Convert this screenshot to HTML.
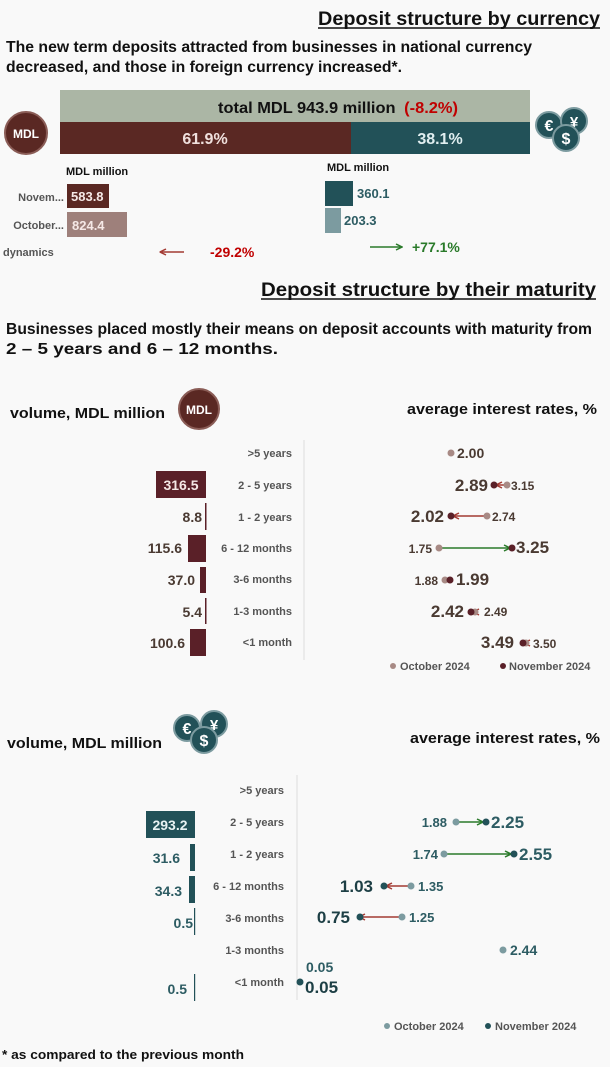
<!DOCTYPE html>
<html><head><meta charset="utf-8"><style>
html,body{margin:0;padding:0;background:#f9f9f9;}
svg{display:block;font-family:"Liberation Sans Narrow","Liberation Sans",sans-serif;font-weight:bold;}
</style></head><body>
<svg width="610" height="1067" viewBox="0 0 610 1067" xmlns="http://www.w3.org/2000/svg">
<defs>
<marker id="ar" viewBox="0 0 10 10" refX="9" refY="5" markerWidth="5" markerHeight="5" orient="auto-start-reverse"><path d="M1,1 L9,5 L1,9" fill="none" stroke="#a33a33" stroke-width="2"/></marker>
<marker id="ag" viewBox="0 0 10 10" refX="9" refY="5" markerWidth="5" markerHeight="5" orient="auto-start-reverse"><path d="M1,1 L9,5 L1,9" fill="none" stroke="#2a7a2a" stroke-width="2"/></marker>
</defs>
<rect width="610" height="1067" fill="#f9f9f9"/>
<text x="318" y="25" font-size="19" fill="#111" textLength="282" lengthAdjust="spacingAndGlyphs">Deposit structure by currency</text>
<line x1="318" y1="28" x2="600" y2="28" stroke="#111" stroke-width="1.5"/>
<text x="6" y="52" font-size="16" fill="#111" textLength="526" lengthAdjust="spacingAndGlyphs">The new term deposits attracted from businesses in national currency</text>
<text x="6" y="72" font-size="16" fill="#111" textLength="396" lengthAdjust="spacingAndGlyphs">decreased, and those in foreign currency increased*.</text>
<rect x="60" y="90" width="470" height="32" fill="#abb6a5"/>
<text x="218" y="113" font-size="16" fill="#111" textLength="240" lengthAdjust="spacingAndGlyphs">total MDL 943.9 million <tspan fill="#c00000" dx="4">(-8.2%)</tspan></text>
<rect x="60" y="122" width="291" height="32" fill="#5a2823"/>
<rect x="351" y="122" width="179" height="32" fill="#225158"/>
<text x="205" y="144" text-anchor="middle" font-size="16" fill="#f0e0dd">61.9%</text>
<text x="440" y="144" text-anchor="middle" font-size="16" fill="#e0eef0">38.1%</text>
<circle cx="26" cy="133" r="21" fill="#5a2823" stroke="#8a5c56" stroke-width="2"/>
<text x="26" y="138" text-anchor="middle" font-size="12" fill="#fff">MDL</text>
<g>
<circle cx="549" cy="125" r="13" fill="#225158" stroke="#7c9ba0" stroke-width="2"/><text x="549" y="131" text-anchor="middle" font-size="16" fill="#fff">€</text>
<circle cx="574" cy="121" r="13" fill="#225158" stroke="#7c9ba0" stroke-width="2"/><text x="574" y="127" text-anchor="middle" font-size="15" fill="#fff">¥</text>
<circle cx="566" cy="138" r="13" fill="#225158" stroke="#7c9ba0" stroke-width="2"/><text x="566" y="144" text-anchor="middle" font-size="16" fill="#fff">$</text>
</g>
<text x="66" y="175" font-size="11" fill="#111">MDL million</text>
<text x="64" y="201" text-anchor="end" font-size="11" fill="#555">Novem...</text>
<rect x="67" y="184" width="42" height="24" fill="#5a2823"/>
<text x="71" y="201" font-size="13" fill="#f5e8e6">583.8</text>
<text x="64" y="229" text-anchor="end" font-size="11" fill="#555">October...</text>
<rect x="67" y="212" width="60" height="25" fill="#9e807b"/>
<text x="72" y="230" font-size="13" fill="#f5e8e6">824.4</text>
<text x="3" y="256" font-size="11" fill="#555">dynamics</text>
<line x1="184" y1="252" x2="160" y2="252" stroke="#a33a33" stroke-width="1.5" marker-end="url(#ar)"/>
<text x="210" y="257" font-size="14" fill="#c00000">-29.2%</text>
<text x="327" y="171" font-size="11" fill="#111">MDL million</text>
<rect x="325" y="181" width="28" height="25" fill="#225158"/>
<text x="357" y="198" font-size="13" fill="#2d5c63">360.1</text>
<rect x="325" y="208" width="16" height="25" fill="#7c9ba0"/>
<text x="344" y="225" font-size="13" fill="#2d5c63">203.3</text>
<line x1="370" y1="247" x2="402" y2="247" stroke="#2a7a2a" stroke-width="1.5" marker-end="url(#ag)"/>
<text x="412" y="252" font-size="14" fill="#2a7a2a">+77.1%</text>
<text x="261" y="296" font-size="19" fill="#111" textLength="335" lengthAdjust="spacingAndGlyphs">Deposit structure by their maturity</text>
<line x1="261" y1="299" x2="596" y2="299" stroke="#111" stroke-width="1.5"/>
<text x="6" y="334" font-size="16" fill="#111" textLength="586" lengthAdjust="spacingAndGlyphs">Businesses placed mostly their means on deposit accounts with maturity from</text>
<text x="6" y="354" font-size="16" fill="#111" textLength="272" lengthAdjust="spacingAndGlyphs">2 – 5 years and 6 – 12 months.</text>
<text x="10" y="418" font-size="15" fill="#111" textLength="155" lengthAdjust="spacingAndGlyphs">volume, MDL million</text>
<circle cx="199" cy="409" r="20" fill="#5a2823" stroke="#8a5c56" stroke-width="2"/>
<text x="199" y="414" text-anchor="middle" font-size="12" fill="#fff">MDL</text>
<text x="407" y="414" font-size="15" fill="#111" textLength="190" lengthAdjust="spacingAndGlyphs">average interest rates, %</text>
<line x1="304" y1="440" x2="304" y2="660" stroke="#ddd"/>
<g font-size="11" fill="#555" text-anchor="end">
<text x="292" y="457">&gt;5 years</text><text x="292" y="489">2 - 5 years</text><text x="292" y="521">1 - 2 years</text>
<text x="292" y="552">6 - 12 months</text><text x="292" y="583">3-6 months</text><text x="292" y="615">1-3 months</text><text x="292" y="646">&lt;1 month</text>
</g>
<g fill="#5a2028">
<rect x="156" y="471" width="50" height="27"/><rect x="205" y="503" width="1.5" height="27"/>
<rect x="188" y="535" width="18" height="27"/><rect x="200" y="567" width="6" height="26"/>
<rect x="205" y="598" width="1.5" height="26"/><rect x="190" y="629" width="16" height="27"/>
</g>
<text x="181" y="490" text-anchor="middle" font-size="14" fill="#f5e8e6">316.5</text>
<g font-size="14" fill="#4a3a32" text-anchor="end">
<text x="202" y="522">8.8</text><text x="182" y="553">115.6</text><text x="195" y="585">37.0</text><text x="202" y="617">5.4</text><text x="185" y="648">100.6</text>
</g>
<g stroke-width="1.5">
<line x1="507" y1="485" x2="496" y2="485" stroke="#a33a33" marker-end="url(#ar)"/>
<line x1="487" y1="516" x2="453" y2="516" stroke="#a33a33" marker-end="url(#ar)"/>
<line x1="439" y1="548" x2="510" y2="548" stroke="#2a7a2a" marker-end="url(#ag)"/>
<line x1="445" y1="580" x2="449" y2="580" stroke="#2a7a2a"/>
<line x1="475" y1="612" x2="473" y2="612" stroke="#a33a33" marker-end="url(#ar)"/>
<line x1="526" y1="643" x2="524" y2="643" stroke="#a33a33" marker-end="url(#ar)"/>
</g>
<g fill="#a88a85"><circle cx="451" cy="453" r="3.5"/><circle cx="507" cy="485" r="3.5"/><circle cx="487" cy="516" r="3.5"/><circle cx="439" cy="548" r="3.5"/><circle cx="445" cy="580" r="3.5"/><circle cx="475" cy="612" r="3.5"/><circle cx="526" cy="643" r="3.5"/></g>
<g fill="#5a2028"><circle cx="494" cy="485" r="3.5"/><circle cx="451" cy="516" r="3.5"/><circle cx="512" cy="548" r="3.5"/><circle cx="450" cy="580" r="3.5"/><circle cx="471" cy="612" r="3.5"/><circle cx="523" cy="643" r="3.5"/></g>
<g fill="#4a3a32">
<text x="457" y="458" font-size="14">2.00</text>
<text x="488" y="491" font-size="17" text-anchor="end">2.89</text><text x="511" y="490" font-size="12">3.15</text>
<text x="444" y="522" font-size="17" text-anchor="end">2.02</text><text x="492" y="521" font-size="12">2.74</text>
<text x="432" y="553" font-size="12" text-anchor="end">1.75</text><text x="516" y="553" font-size="17">3.25</text>
<text x="438" y="585" font-size="12" text-anchor="end">1.88</text><text x="456" y="585" font-size="17">1.99</text>
<text x="464" y="617" font-size="17" text-anchor="end">2.42</text><text x="484" y="616" font-size="12">2.49</text>
<text x="514" y="648" font-size="17" text-anchor="end">3.49</text><text x="533" y="648" font-size="12">3.50</text>
</g>
<circle cx="393" cy="666" r="3" fill="#a88a85"/><text x="400" y="670" font-size="11" fill="#555">October 2024</text>
<circle cx="503" cy="666" r="3" fill="#5a2028"/><text x="509" y="670" font-size="11" fill="#555">November 2024</text>
<text x="7" y="748" font-size="15" fill="#111" textLength="155" lengthAdjust="spacingAndGlyphs">volume, MDL million</text>
<g>
<circle cx="187" cy="728" r="13" fill="#225158" stroke="#7c9ba0" stroke-width="2"/><text x="187" y="734" text-anchor="middle" font-size="16" fill="#fff">€</text>
<circle cx="214" cy="724" r="13" fill="#225158" stroke="#7c9ba0" stroke-width="2"/><text x="214" y="730" text-anchor="middle" font-size="15" fill="#fff">¥</text>
<circle cx="204" cy="740" r="13" fill="#225158" stroke="#7c9ba0" stroke-width="2"/><text x="204" y="746" text-anchor="middle" font-size="16" fill="#fff">$</text>
</g>
<text x="410" y="743" font-size="15" fill="#111" textLength="190" lengthAdjust="spacingAndGlyphs">average interest rates, %</text>
<line x1="297" y1="775" x2="297" y2="1000" stroke="#ddd"/>
<g font-size="11" fill="#555" text-anchor="end">
<text x="284" y="794">&gt;5 years</text><text x="284" y="826">2 - 5 years</text><text x="284" y="858">1 - 2 years</text>
<text x="284" y="890">6 - 12 months</text><text x="284" y="922">3-6 months</text><text x="284" y="954">1-3 months</text><text x="284" y="986">&lt;1 month</text>
</g>
<g fill="#225158">
<rect x="146" y="811" width="49" height="27"/><rect x="190" y="844" width="5" height="27"/>
<rect x="189" y="876" width="6" height="27"/><rect x="194" y="908" width="1.2" height="27"/><rect x="194" y="974" width="1.2" height="27"/>
</g>
<text x="170" y="830" text-anchor="middle" font-size="14" fill="#e8f2f3">293.2</text>
<g font-size="14" fill="#2d5c63" text-anchor="end">
<text x="180" y="863">31.6</text><text x="182" y="896">34.3</text><text x="193" y="928">0.5</text><text x="187" y="994">0.5</text>
</g>
<g stroke-width="1.5">
<line x1="456" y1="822" x2="483" y2="822" stroke="#2a7a2a" marker-end="url(#ag)"/>
<line x1="444" y1="854" x2="511" y2="854" stroke="#2a7a2a" marker-end="url(#ag)"/>
<line x1="408" y1="886" x2="386" y2="886" stroke="#a33a33" marker-end="url(#ar)"/>
<line x1="401" y1="917" x2="359" y2="917" stroke="#a33a33" marker-end="url(#ar)"/>
</g>
<g fill="#7c9ba0"><circle cx="456" cy="822" r="3.5"/><circle cx="444" cy="854" r="3.5"/><circle cx="411" cy="886" r="3.5"/><circle cx="402" cy="917" r="3.5"/><circle cx="503" cy="950" r="3.5"/></g>
<g fill="#225158"><circle cx="486" cy="822" r="3.5"/><circle cx="514" cy="854" r="3.5"/><circle cx="384" cy="886" r="3.5"/><circle cx="360" cy="917" r="3.5"/><circle cx="300" cy="982" r="3.5"/></g>
<g fill="#2d5c63">
<text x="447" y="827" font-size="13" text-anchor="end">1.88</text><text x="491" y="828" font-size="17">2.25</text>
<text x="438" y="859" font-size="13" text-anchor="end">1.74</text><text x="519" y="860" font-size="17">2.55</text>
<text x="373" y="892" font-size="17" text-anchor="end" fill="#1d3f45">1.03</text><text x="418" y="891" font-size="13">1.35</text>
<text x="350" y="923" font-size="17" text-anchor="end" fill="#1d3f45">0.75</text><text x="409" y="922" font-size="13">1.25</text>
<text x="510" y="955" font-size="14">2.44</text>
<text x="306" y="972" font-size="14">0.05</text><text x="305" y="993" font-size="17" fill="#1d3f45">0.05</text>
</g>
<circle cx="387" cy="1026" r="3" fill="#7c9ba0"/><text x="394" y="1030" font-size="11" fill="#555">October 2024</text>
<circle cx="488" cy="1026" r="3" fill="#225158"/><text x="495" y="1030" font-size="11" fill="#555">November 2024</text>
<text x="2" y="1059" font-size="13" fill="#111" textLength="242" lengthAdjust="spacingAndGlyphs">* as compared to the previous month</text>
</svg>
</body></html>
